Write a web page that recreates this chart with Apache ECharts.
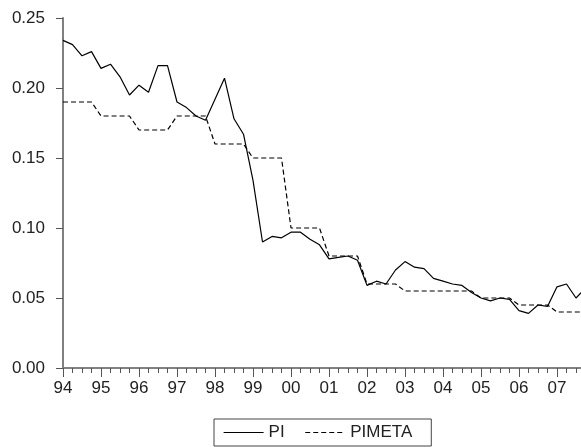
<!DOCTYPE html>
<html>
<head>
<meta charset="utf-8">
<script src="https://cdn.jsdelivr.net/npm/echarts@6/dist/echarts.min.js"></script>
<style>
html,body{margin:0;padding:0;background:#fff;overflow:hidden;width:581px;height:447px;}
#chart{width:595px;height:447px;}
</style>
</head>
<body>
<div id="chart"></div>
<script>
// Quarterly observations, 1994Q1 .. 2007Q4
const yearLabels = ['94','95','96','97','98','99','00','01','02','03','04','05','06','07'];
const piValues = [
  0.234, 0.231, 0.223, 0.226,
  0.214, 0.217, 0.208, 0.195,
  0.202, 0.197, 0.216, 0.216,
  0.190, 0.186, 0.180, 0.177,
  0.192, 0.207, 0.178, 0.167,
  0.134, 0.090, 0.094, 0.093,
  0.097, 0.097, 0.092, 0.088,
  0.078, 0.079, 0.080, 0.077,
  0.059, 0.062, 0.060, 0.070,
  0.076, 0.072, 0.071, 0.064,
  0.062, 0.060, 0.059, 0.054,
  0.050, 0.048, 0.050, 0.049,
  0.041, 0.039, 0.045, 0.044,
  0.058, 0.060, 0.050, 0.057
];
const pimetaValues = [
  0.19, 0.19, 0.19, 0.19,
  0.18, 0.18, 0.18, 0.18,
  0.17, 0.17, 0.17, 0.17,
  0.18, 0.18, 0.18, 0.18,
  0.16, 0.16, 0.16, 0.16,
  0.15, 0.15, 0.15, 0.15,
  0.10, 0.10, 0.10, 0.10,
  0.08, 0.08, 0.08, 0.08,
  0.06, 0.06, 0.06, 0.06,
  0.055, 0.055, 0.055, 0.055,
  0.055, 0.055, 0.055, 0.055,
  0.05, 0.05, 0.05, 0.05,
  0.045, 0.045, 0.045, 0.045,
  0.04, 0.04, 0.04, 0.04
];
const seriesNames = ['PI', 'PIMETA'];

const toPairs = arr => arr.map((v, i) => [i, v]);
const FONT = 'Liberation Sans';
const AXIS_GRAY = '#808080';

const chart = echarts.init(document.getElementById('chart'), null, {renderer: 'canvas'});
chart.setOption({
  animation: false,
  backgroundColor: '#ffffff',
  grid: {left: 63, top: 18, bottom: 79, right: 0, containLabel: false},
  xAxis: [{
    type: 'value',
    min: 0,
    max: 56,
    interval: 4,
    axisLine: {show: true, onZero: false, lineStyle: {color: AXIS_GRAY, width: 2}},
    axisTick: {show: true, inside: false, length: 9, lineStyle: {color: '#555', width: 1}},
    minorTick: {show: true, splitNumber: 4, length: 5, lineStyle: {color: '#555', width: 1}},
    splitLine: {show: false},
    axisLabel: {
      show: true, margin: 12, color: '#222', fontFamily: FONT, fontSize: 17,
      showMaxLabel: false,
      formatter: v => yearLabels[v / 4] !== undefined ? yearLabels[v / 4] : ''
    }
  }, {
    type: 'value',
    position: 'top',
    min: 0,
    max: 56,
    axisLine: {show: true, lineStyle: {color: AXIS_GRAY, width: 2}},
    axisTick: {show: false},
    axisLabel: {show: false},
    splitLine: {show: false}
  }],
  yAxis: {
    type: 'value',
    min: 0,
    max: 0.25,
    interval: 0.05,
    axisLine: {show: true, lineStyle: {color: AXIS_GRAY, width: 2}},
    axisTick: {show: true, inside: false, length: 7, lineStyle: {color: '#555', width: 1}},
    splitLine: {show: false},
    axisLabel: {
      margin: 18, color: '#222', fontFamily: FONT, fontSize: 17,
      formatter: v => v.toFixed(2)
    }
  },
  legend: {
    show: true,
    left: 214,
    top: 419,
    orient: 'horizontal',
    padding: [5, 19, 5, 9],
    itemWidth: 40,
    itemHeight: 17,
    itemGap: 20,
    borderColor: '#444',
    borderWidth: 1,
    itemStyle: {opacity: 0, color: 'transparent', borderWidth: 0},
    lineStyle: {width: 1.2},
    textStyle: {fontFamily: FONT, fontSize: 17, color: '#222'},
    data: seriesNames
  },
  series: [{
    name: seriesNames[0],
    type: 'line',
    data: toPairs(piValues),
    symbol: 'none',
    clip: true,
    lineStyle: {color: '#000', width: 1.2, type: 'solid'},
    itemStyle: {color: '#000'}
  }, {
    name: seriesNames[1],
    type: 'line',
    data: toPairs(pimetaValues),
    symbol: 'none',
    clip: true,
    lineStyle: {color: '#000', width: 1.2, type: [5, 3]},
    itemStyle: {color: '#000'}
  }]
});
</script>
</body>
</html>
